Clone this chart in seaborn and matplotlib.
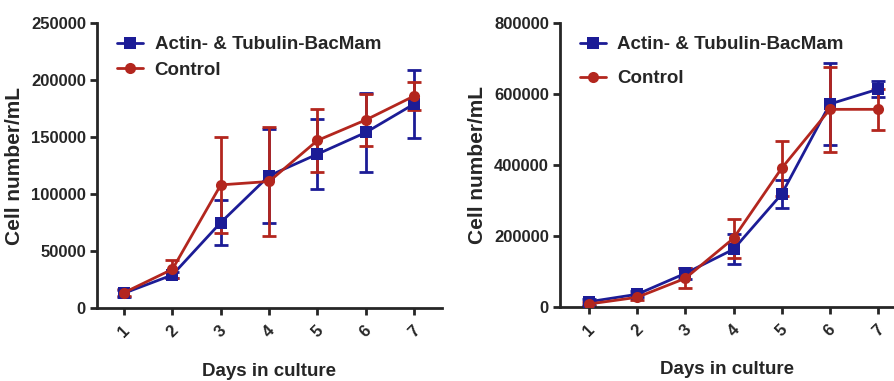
import matplotlib
matplotlib.use("Agg")
import matplotlib.pyplot as plt
import seaborn as sns
import pandas as pd

sns.set_style("ticks")
plt.rcParams["font.family"] = ["Liberation Sans", "DejaVu Sans"]
plt.rcParams["font.weight"] = "bold"

days = [1, 2, 3, 4, 5, 6, 7]
series = ["Actin- & Tubulin-BacMam", "Control"]

# left panel
left_bacmam = [13000, 29000, 75000, 116000, 135000, 154000, 179000]
left_bacmam_err = [3000, 3000, 20000, 41000, 31000, 35000, 29500]
left_control = [13500, 34000, 108000, 111000, 147000, 165000, 186000]
left_control_err = [3000, 8000, 42000, 47500, 28000, 22500, 12000]

# right panel
right_bacmam = [14000, 35000, 94000, 162000, 318000, 572000, 614000]
right_bacmam_err = [8000, 8000, 15000, 42000, 40000, 115000, 22000]
right_control = [7600, 26500, 80000, 193000, 391000, 557000, 557000]
right_control_err = [5000, 8000, 28000, 55000, 78000, 120000, 58000]

colors = {"Actin- & Tubulin-BacMam": "#1c1c96", "Control": "#b3261e"}
markers = {"Actin- & Tubulin-BacMam": "s", "Control": "o"}


def make_df(a, a_err, c, c_err):
    return pd.DataFrame({
        "Day": days + days,
        "Cells": a + c,
        "Err": a_err + c_err,
        "Group": [series[0]] * len(days) + [series[1]] * len(days),
    })


def draw(ax, df, yticks, xlim, spacing):
    for g in series:
        sub = df[df["Group"] == g]
        ax.errorbar(
            sub["Day"], sub["Cells"], yerr=sub["Err"],
            fmt="none", ecolor=colors[g], elinewidth=2,
            capsize=5, capthick=2, zorder=2
        )
    sns.lineplot(
        data=df, x="Day", y="Cells", hue="Group", style="Group",
        palette=colors, markers=markers, dashes=False,
        markersize=8, linewidth=2, markeredgewidth=0,
        ax=ax, zorder=3
    )
    ax.set_xlim(*xlim)
    ax.set_ylim(0, yticks[-1])
    ax.set_yticks(yticks)
    ax.set_yticklabels([str(v) for v in yticks], fontsize=12, fontweight="bold")
    ax.set_xticks(days)
    ax.set_xticklabels([str(d) for d in days], rotation=45,
                       fontsize=12, fontweight="bold")
    ax.set_xlabel("Days in culture", fontsize=13.5, fontweight="bold", labelpad=16)
    ax.set_ylabel("Cell number/mL", fontsize=15, fontweight="bold", labelpad=5)
    sns.despine(ax=ax)
    for s in ["left", "bottom"]:
        ax.spines[s].set_linewidth(2)
    ax.tick_params(width=2, length=5, pad=3)
    ax.tick_params(axis="x", pad=6)
    ax.legend(
        loc="upper left", bbox_to_anchor=(0.02, 1.0), frameon=False,
        prop={"size": 13.5, "weight": "bold"}, handlelength=1.4,
        handletextpad=0.6, labelspacing=spacing, borderaxespad=0.3
    )


fig = plt.figure(figsize=(8.94, 3.81), dpi=100)
ax1 = fig.add_axes([0.1085, 0.1916, 0.3856, 0.748])
ax2 = fig.add_axes([0.6264, 0.195, 0.3736, 0.744])

draw(ax1, make_df(left_bacmam, left_bacmam_err, left_control, left_control_err),
     [0, 50000, 100000, 150000, 200000, 250000], (0.44, 7.57), 0.45)
draw(ax2, make_df(right_bacmam, right_bacmam_err, right_control, right_control_err),
     [0, 200000, 400000, 600000, 800000], (0.40, 7.33), 0.9)

fig.savefig("out.png", dpi=100)
